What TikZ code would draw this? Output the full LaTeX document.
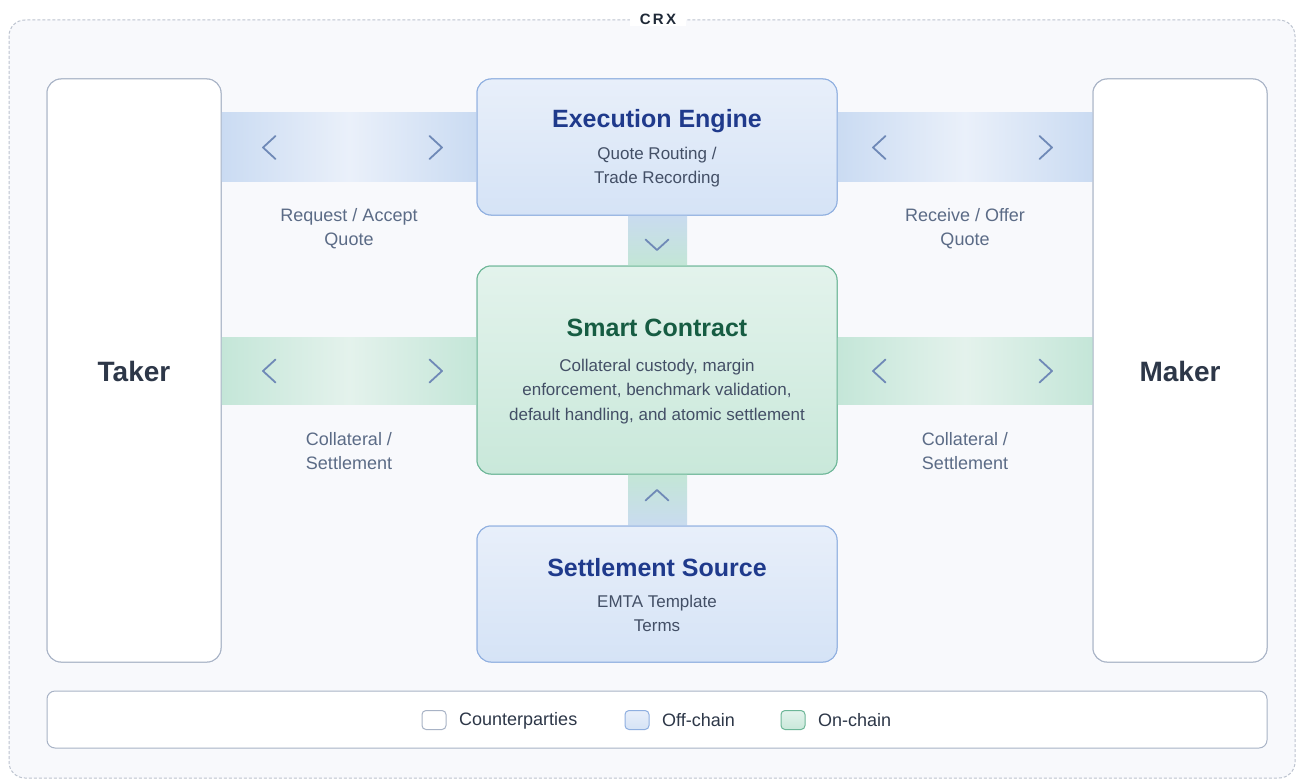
\documentclass[tikz,border=0pt]{standalone}
\usepackage{fontspec}
\setmainfont{Liberation Sans}
\usetikzlibrary{calc}
\definecolor{bgc}{HTML}{F8F9FC}
\definecolor{dashc}{HTML}{BCC3CF}
\definecolor{cpline}{HTML}{A8B3C6}
\definecolor{offtop}{HTML}{E8EFFA}
\definecolor{offbot}{HTML}{D5E3F6}
\definecolor{offline}{HTML}{8FAFE0}
\definecolor{ontop}{HTML}{E3F3EC}
\definecolor{onbot}{HTML}{C9E8DA}
\definecolor{online}{HTML}{6CB697}
\definecolor{bandB}{HTML}{CADBF2}
\definecolor{bandBc}{HTML}{EAF0FA}
\definecolor{bandG}{HTML}{C4E6D8}
\definecolor{bandGc}{HTML}{E4F2EC}
\definecolor{vB}{HTML}{C9DBEF}
\definecolor{vG}{HTML}{C3E6D6}
\definecolor{chev}{HTML}{6F89B7}
\definecolor{titleB}{HTML}{1F3A8C}
\definecolor{titleG}{HTML}{165C42}
\definecolor{bodyc}{HTML}{434F66}
\definecolor{labc}{HTML}{5B6B86}
\definecolor{darkc}{HTML}{2D3748}
\definecolor{crxc}{HTML}{1F2937}
\newcommand{\fs}[1]{\fontsize{#1}{#1}\selectfont}
\begin{document}
\begin{tikzpicture}[x=1pt,y=-1pt,
  cpbox/.style={draw=cpline, line width=1pt, fill=white, rounded corners=14pt, inner sep=0pt},
  offbox/.style={draw=offline, line width=1pt, top color=offtop, bottom color=offbot, rounded corners=14pt, minimum width=360pt, inner sep=0pt},
  onbox/.style={draw=online, line width=1pt, top color=ontop, bottom color=onbot, rounded corners=14pt, minimum width=360pt, inner sep=0pt},
  ttlB/.style={font=\fs{25}\bfseries, text=titleB, inner sep=0pt},
  ttlG/.style={font=\fs{25}\bfseries, text=titleG, inner sep=0pt},
  body/.style={font=\fontsize{17}{24.5}\selectfont, text=bodyc, align=center, inner sep=0pt},
  lab/.style={font=\fontsize{18}{24}\selectfont, text=labc, align=center, inner sep=0pt},
  party/.style={font=\fs{28}\bfseries, text=darkc, inner sep=0pt},
  chv/.style={draw=chev, line width=1.8pt, line cap=round, line join=round},
  leg/.style={rounded corners=4pt, line width=1pt, minimum width=24pt, minimum height=19pt, inner sep=0pt},
  legt/.style={font=\fs{18}, text=darkc, anchor=west, inner sep=0pt}
]
\useasboundingbox (0,0) rectangle (1300,781);
\fill[white] (0,0) rectangle (1300,781);
% outer frame
\draw[dashc, fill=bgc, line width=1pt, dash pattern=on 3pt off 2pt, rounded corners=16pt] (9,20) rectangle (1295,778);
\node[fill=white, inner xsep=10pt, inner ysep=2pt, font=\fs{15}\bfseries, text=crxc] (crx) at (658,19) {\addfontfeatures{LetterSpace=16}CRX};

% nodes (boxes)
\node[cpbox, minimum width=174pt, minimum height=583pt] (taker) at (134,370.5) {};
\node[cpbox, minimum width=174pt, minimum height=583pt] (maker) at (1180,370.5) {};
\node[offbox, minimum height=136pt] (ee) at (657,147) {};
\node[onbox, minimum height=208pt] (sc) at (657,370) {};
\node[offbox, minimum height=136pt] (ss) at (657,594) {};

% bands (connectors)
\shade[left color=bandB, right color=bandB, middle color=bandBc] (taker.east |- 0,113) rectangle (ee.west |- 0,181);
\shade[left color=bandB, right color=bandB, middle color=bandBc] (ee.east |- 0,113) rectangle (maker.west |- 0,181);
\shade[left color=bandG, right color=bandG, middle color=bandGc] (taker.east |- 0,337) rectangle (sc.west |- 0,404);
\shade[left color=bandG, right color=bandG, middle color=bandGc] (sc.east |- 0,337) rectangle (maker.west |- 0,404);
\shade[top color=vB, bottom color=vG] (628,0 |- ee.south) rectangle (687,0 |- sc.north);
\shade[top color=vG, bottom color=vB] (628,0 |- sc.south) rectangle (687,0 |- ss.north);

% redraw boxes on top
\node[cpbox, minimum width=174pt, minimum height=583pt] at (taker) {};
\node[cpbox, minimum width=174pt, minimum height=583pt] at (maker) {};
\node[offbox, minimum height=136pt] at (ee) {};
\node[onbox, minimum height=208pt] at (sc) {};
\node[offbox, minimum height=136pt] at (ss) {};

% chevrons
\draw[chv] (275.5,136) -- (263,147.5) -- (275.5,159);
\draw[chv] (429.5,136) -- (442,147.5) -- (429.5,159);
\draw[chv] (885.5,136) -- (873,147.5) -- (885.5,159);
\draw[chv] (1039.5,136) -- (1052,147.5) -- (1039.5,159);
\draw[chv] (275.5,359.5) -- (263,371) -- (275.5,382.5);
\draw[chv] (429.5,359.5) -- (442,371) -- (429.5,382.5);
\draw[chv] (885.5,359.5) -- (873,371) -- (885.5,382.5);
\draw[chv] (1039.5,359.5) -- (1052,371) -- (1039.5,382.5);
\draw[chv] (645.5,239.5) -- (657,250) -- (668.5,239.5);
\draw[chv] (645.5,500.5) -- (657,490) -- (668.5,500.5);

% texts
\node[party] (tkt) at (134,371.5) {Taker};
\node[party] (mkt) at (1180,371.5) {Maker};
\node[ttlB] (eet) at (657,121) {Execution Engine};
\node[body] (ees) at (657,167) {Quote Routing /\\Trade Recording};
\node[ttlG] (sct) at (657,328) {Smart Contract};
\node[body] (scs) at (657,391.5) {Collateral custody, margin\\enforcement, benchmark validation,\\default handling, and atomic settlement};
\node[ttlB] (sst) at (657,568) {Settlement Source};
\node[body] (sss) at (657,613.5) {EMTA Template\\Terms};

\node[lab] (l1) at (349,228.5) {Request / Accept\\Quote};
\node[lab] (l2) at (965,228.5) {Receive / Offer\\Quote};
\node[lab] (l3) at (349,451.5) {Collateral /\\Settlement};
\node[lab] (l4) at (965,451.5) {Collateral /\\Settlement};

% legend
\node[cpbox, rounded corners=8pt, minimum width=1220pt, minimum height=57pt] (legend) at (657,719.5) {};
\node[leg, draw=cpline, fill=white] (k1) at (434,720) {};
\node[legt] (k1t) at (459,720.5) {Counterparties};
\node[leg, draw=offline, top color=offtop, bottom color=offbot] (k2) at (637,720) {};
\node[legt] (k2t) at (662,720.5) {Off-chain};
\node[leg, draw=online, top color=ontop, bottom color=onbot] (k3) at (793,720) {};
\node[legt] (k3t) at (818,720.5) {On-chain};
\end{tikzpicture}
\end{document}
